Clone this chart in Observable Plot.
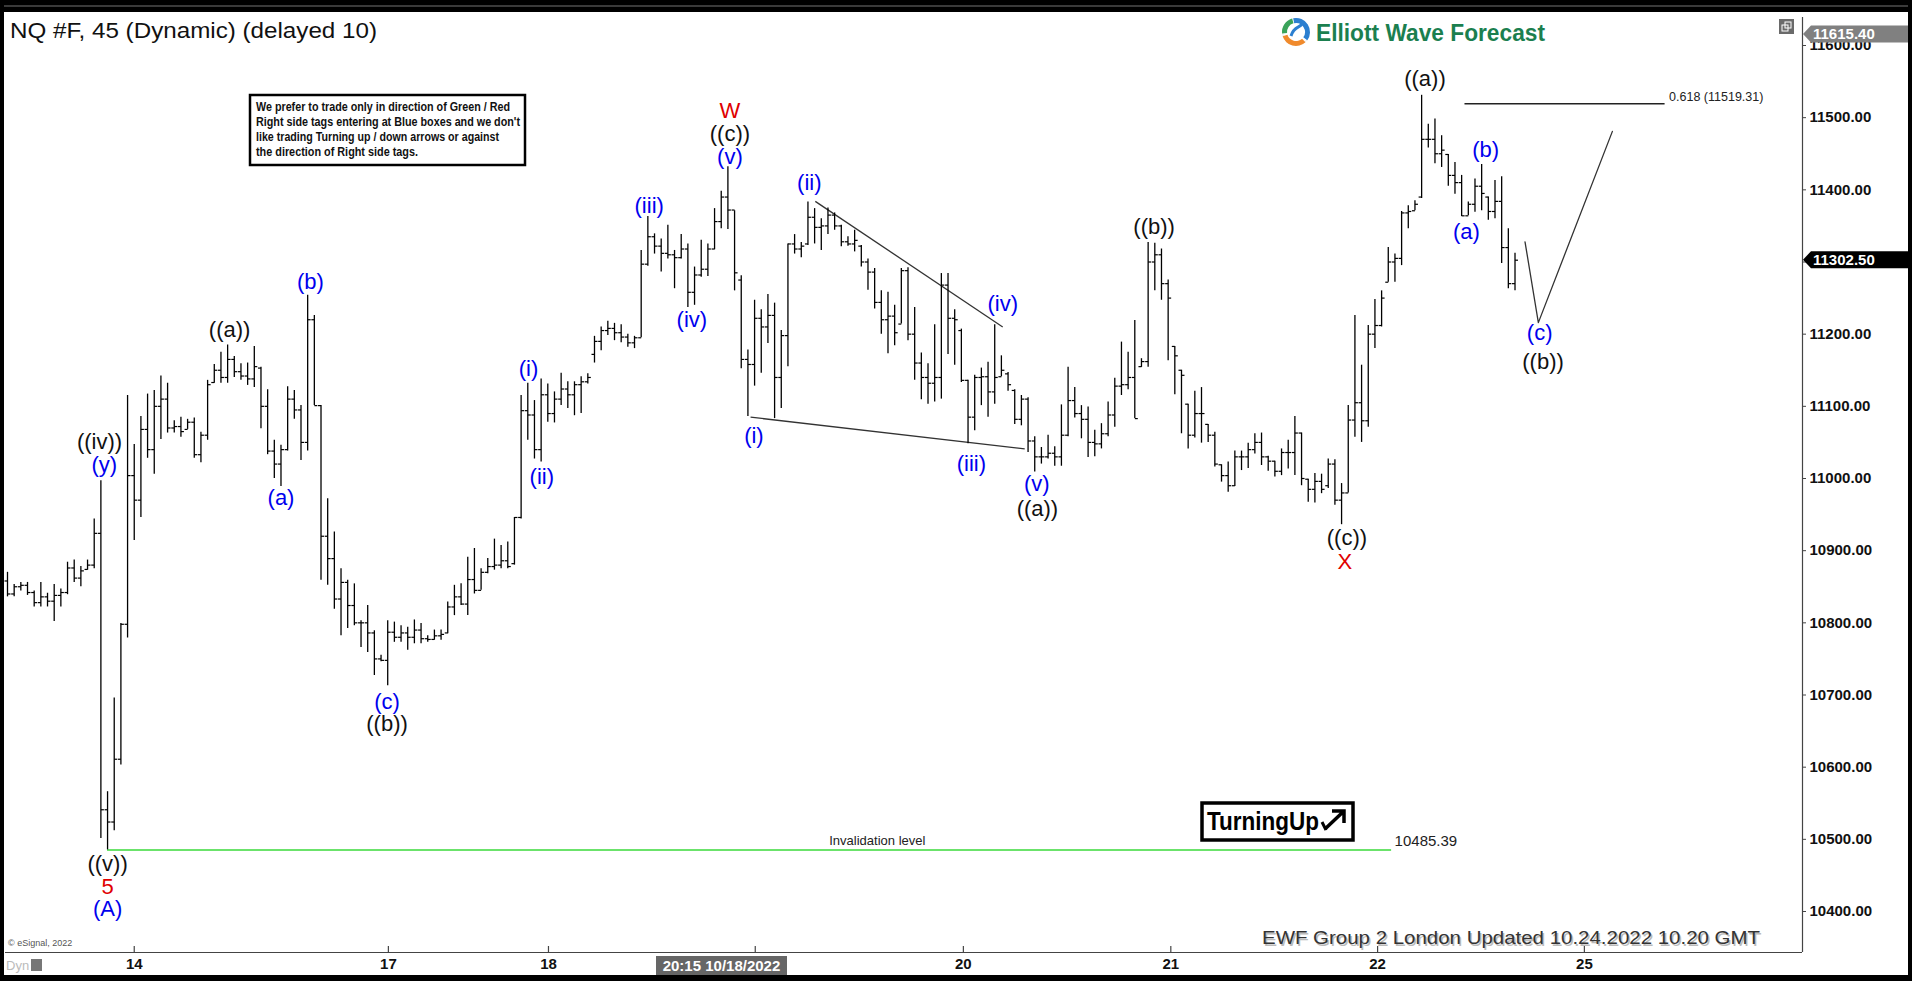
<!DOCTYPE html>
<html><head><meta charset="utf-8">
<script src="https://cdn.jsdelivr.net/npm/d3@7"></script>
<script src="https://cdn.jsdelivr.net/npm/@observablehq/plot@0.6"></script>
<style>
html,body{margin:0;padding:0;background:#000;}
#wrap{position:relative;width:1912px;height:981px;overflow:hidden;}
svg{display:block}
</style></head><body><div id="wrap"></div>
<script>
// ---- 45-minute OHLC bars (NQ #F), one entry per bar ----
const opens=[10858,10840,10850,10852,10842,10828,10836,10830,10838,10842,
10876,10862,10874,10880,10924,10541,10524,10611,10798,11004,
10970,11068,11040,11100,11110,11070,11072,11068,11078,11033,
11060,11133,11150,11140,11165,11148,11142,11138,11153,11100,
11038,11020,11040,11110,11095,11050,11220,11101,10920,10889,
10833,10856,10824,10800,10800,10786,10750,10748,10787,10780,
10786,10780,10790,10778,10777,10782,10786,10822,10836,10826,
10860,10845,10870,10878,10880,10886,10882,10946,11094,11088,
11040,11116,11090,11110,11124,11116,11130,11134,11172,11190,
11205,11208,11202,11196,11188,11195,11297,11335,11322,11312,
11310,11306,11318,11258,11282,11290,11318,11356,11390,11372,
11275,11165,11158,11222,11210,11226,11140,11198,11325,11318,
11325,11362,11348,11350,11365,11350,11328,11325,11322,11300,
11286,11244,11220,11225,11214,11288,11200,11160,11140,11132,
11140,11268,11222,11205,11136,11085,11140,11141,11120,11141,
11145,11122,11082,11110,11052,11030,11030,11035,11030,11060,
11108,11090,11082,11050,11048,11062,11088,11128,11130,11140,
11155,11162,11300,11310,11270,11183,11150,11103,11060,11090,
11075,11060,11019,11004,10990,11030,11030,11040,11050,11030,
11024,11010,11036,11036,11063,10999,10985,10996,10990,11020,
10970,10980,11081,11105,11080,11200,11212,11272,11300,11305,
11368,11371,11390,11470,11470,11450,11449,11420,11410,11364,
11380,11405,11390,11370,11384,11320,11270];
const highs=[10870,10853,10856,10856,10844,10856,10841,10853,10847,10884,
10887,10878,10887,10944,10997,10566,10696,10799,11115,11047,
11086,11117,11122,11142,11132,11080,11085,11082,11084,11064,
11136,11158,11175,11185,11169,11159,11160,11183,11154,11123,
11053,11046,11127,11122,11101,11254,11226,11101,10972,10926,
10875,10859,10854,10803,10824,10789,10755,10803,10801,10796,
10794,10804,10799,10782,10790,10790,10829,10852,10854,10891,
10903,10875,10889,10916,10907,10912,10946,11115,11132,11108,
11138,11131,11120,11146,11134,11134,11141,11145,11197,11210,
11218,11215,11213,11200,11197,11316,11363,11339,11332,11351,
11316,11338,11325,11293,11330,11325,11374,11398,11432,11371,
11281,11178,11247,11234,11255,11243,11205,11325,11338,11327,
11383,11374,11360,11375,11368,11351,11335,11344,11323,11304,
11291,11260,11258,11240,11291,11292,11237,11174,11159,11213,
11284,11284,11234,11207,11136,11143,11153,11161,11213,11170,
11147,11123,11115,11112,11058,11043,11060,11044,11102,11154,
11126,11101,11099,11067,11076,11106,11139,11189,11175,11219,
11166,11327,11326,11318,11275,11183,11150,11103,11121,11126,
11075,11064,11019,11023,11038,11038,11049,11062,11063,11031,
11024,11041,11053,11086,11063,10999,11007,11006,11027,11026,
10993,11101,11226,11157,11212,11248,11260,11320,11311,11370,
11378,11385,11531,11491,11498,11475,11449,11438,11420,11383,
11415,11435,11390,11413,11418,11346,11312];
const lows=[10836,10836,10844,10838,10822,10822,10822,10802,10822,10839,
10856,10850,10873,10875,10501,10485.39,10512,10603,10779,10914,
10946,11028,11006,11054,11063,11063,11057,11068,11028,11022,
11053,11132,11132,11132,11140,11136,11129,11126,11069,11033,
11000,10989,11038,11082,11025,11038,11101,10859,10852,10819,
10782,10792,10796,10766,10759,10727,10746,10713,10773,10773,
10762,10771,10771,10773,10776,10776,10785,10810,10824,10810,
10840,10845,10868,10873,10875,10875,10880,10944,11053,11027,
11023,11078,11077,11101,11097,11087,11090,11131,11160,11177,
11198,11191,11188,11182,11180,11195,11294,11311,11286,11304,
11263,11304,11237,11240,11279,11280,11317,11346,11345,11260,
11152,11086,11128,11146,11187,11083,11097,11155,11311,11306,
11323,11325,11316,11338,11344,11321,11322,11314,11293,11261,
11235,11200,11173,11184,11214,11191,11136,11109,11103,11106,
11110,11172,11157,11133,11048,11066,11101,11085,11103,11141,
11121,11075,11073,11036,11009,11020,11027,11017,11017,11058,
11084,11055,11029,11030,11041,11058,11071,11115,11123,11083,
11154,11154,11260,11247,11163,11116,11062,11041,11056,11049,
11050,11016,10995,10981,10989,11011,11014,11034,11018,11010,
11002,11004,11013,11004,10990,10967,10966,10979,10986,10963,
10936,10980,11057,11050,11071,11180,11210,11272,11272,11295,
11346,11371,11388,11458,11436,11431,11405,11394,11363,11364,
11369,11371,11358,11360,11298,11263,11260];
const closes=[10840,10850,10852,10842,10828,10836,10830,10838,10842,10876,
10862,10872,10880,10924,10541,10524,10611,10798,11004,10970,
11068,11040,11100,11110,11070,11072,11065,11078,11033,11060,
11130,11150,11140,11165,11148,11142,11138,11155,11100,11038,
11020,11040,11110,11095,11050,11220,11101,10920,10889,10833,
10856,10824,10800,10800,10786,10750,10748,10787,10780,10786,
10780,10790,10778,10777,10782,10784,10822,10836,10826,10860,
10845,10870,10878,10880,10886,10878,10946,11094,11088,11040,
11116,11090,11110,11124,11116,11130,11134,11140,11190,11205,
11208,11202,11196,11188,11195,11297,11335,11322,11312,11310,
11306,11318,11258,11282,11290,11318,11356,11390,11372,11285,
11165,11158,11222,11210,11226,11140,11198,11325,11318,11322,
11362,11348,11350,11365,11350,11328,11325,11330,11300,11286,
11244,11220,11225,11202,11288,11200,11160,11140,11132,11140,
11268,11222,11220,11136,11085,11140,11141,11120,11140,11150,
11130,11082,11110,11052,11030,11030,11035,11030,11060,11108,
11090,11082,11050,11048,11062,11088,11128,11130,11140,11083,
11162,11300,11310,11270,11250,11170,11143,11060,11090,11090,
11060,11020,11004,10990,11030,11030,11040,11050,11030,11024,
11010,11036,11036,11063,11000,10985,10996,10985,11020,10970,
10980,11081,11105,11080,11200,11212,11250,11300,11305,11368,
11370,11380,11470,11470,11450,11455,11420,11410,11364,11380,
11405,11395,11370,11384,11320,11270,11302.5];

// ---- axes ----
const yTicks=[10400,10500,10600,10700,10800,10900,11000,11100,11200,11300,11400,11500,11600];
const dayTickIdx=[19,57.1,81.1,112.1,143.3,174.4,205.4,236.4];
const dayTickLabels=["14","17","18","","20","21","22","25"];

// ---- Elliott wave labels (bar position, price) ----
const waveText=["((iv))","(y)","((v))","5","(A)","((a))","(a)","(b)","(c)","((b))","(i)","(ii)","(iii)","(iv)","W","((c))","(v)","(i)","(ii)","(iii)","(iv)","(v)","((a))","((b))","((c))","X","((a))","(b)","(a)","(c)","((b))"];
const waveIdx=[13.8,14.5,15,15,15,33.3,41,45.4,56.9,56.9,78.1,80.1,96.2,102.6,108.3,108.3,108.3,111.9,120.2,144.5,149.2,154.3,154.4,171.9,200.8,200.5,212.5,221.6,218.7,229.7,230.2];
const wavePrice=[11050,11019,10466,10434,10403,11206,10973,11272,10691,10660,11152,11002,11377,11220,11509,11478,11446,11059,11409,11020,11242,10993,10958,11348,10917,10885,11554,11455,11341,11201,11162];
const waveColor=["#111","#0000ee","#111","#e00000","#0000ee","#111","#0000ee","#0000ee","#0000ee","#111","#0000ee","#0000ee","#0000ee","#0000ee","#e00000","#111","#0000ee","#0000ee","#0000ee","#0000ee","#0000ee","#0000ee","#111","#111","#111","#e00000","#111","#0000ee","#0000ee","#0000ee","#111"];

// ---- guide lines ----
const triIdx1=[121.1,111.4], triPrice1=[11384,11085];
const triIdx2=[149.2,152.5], triPrice2=[11210,11041];
const projIdx=[227.5,229.5,240.6];
const projPrice=[11328,11216,11481];
const invalidation=10485.39, invStartIdx=15, invEndIdx=207.5;
const fib=11519.31, fibStartIdx=218.5, fibEndIdx=248.5;
const lastPrice=11302.5, highPrice=11615.4;

const bars=opens.map((o,i)=>({i,open:o,high:highs[i],low:lows[i],close:closes[i]}));
const waves=waveText.map((t,k)=>({t,x:waveIdx[k],y:wavePrice[k],c:waveColor[k]}));
const tri=[0,1].map(k=>({x1:triIdx1[k],y1:triPrice1[k],x2:triIdx2[k],y2:triPrice2[k]}));
const proj=projIdx.map((x,k)=>({x,y:projPrice[k]}));

const X0=-0.3,X1=269.1,Y0=10343.2,Y1=11638.8;
const FONT="Arial, 'Liberation Sans', sans-serif";

const chart=Plot.plot({
  width:1912,height:981,marginLeft:5,marginRight:110,marginTop:17,marginBottom:29,
  x:{domain:[X0,X1],axis:null},
  y:{domain:[Y0,Y1],axis:null},
  style:{background:"transparent",fontFamily:FONT},
  marks:[
    Plot.ruleY([{y:invalidation,x1:invStartIdx,x2:invEndIdx}],{y:"y",x1:"x1",x2:"x2",stroke:"#6be36b",strokeWidth:2}),
    Plot.ruleY([{y:fib,x1:fibStartIdx,x2:fibEndIdx}],{y:"y",x1:"x1",x2:"x2",stroke:"#222",strokeWidth:1.3}),
    Plot.link(tri,{x1:"x1",y1:"y1",x2:"x2",y2:"y2",stroke:"#333",strokeWidth:1.3}),
    Plot.line(proj,{x:"x",y:"y",stroke:"#333",strokeWidth:1.3}),
    Plot.ruleX(bars,{x:"i",y1:"low",y2:"high",stroke:"#000",strokeWidth:1.3}),
    Plot.link(bars,{x1:d=>d.i-0.45,x2:"i",y1:"open",y2:"open",stroke:"#000",strokeWidth:1.2}),
    Plot.link(bars,{x1:"i",x2:d=>d.i+0.45,y1:"close",y2:"close",stroke:"#000",strokeWidth:1.2}),
    Plot.text(waves,{x:"x",y:"y",text:"t",fill:"c",fontSize:22,fontFamily:FONT}),
    Plot.text([{x:130.4,y:invalidation}],{x:"x",y:"y",text:()=>"Invalidation level",dy:-9,fontSize:13,fill:"#222"}),
    Plot.text([{x:invEndIdx,y:invalidation}],{x:"x",y:"y",text:()=>"10485.39",dx:3,dy:-9,textAnchor:"start",fontSize:15,fill:"#222"}),
    Plot.text([{x:fibEndIdx,y:fib}],{x:"x",y:"y",text:()=>"0.618 (11519.31)",dx:4,dy:-7,textAnchor:"start",fontSize:12.5,fill:"#222"}),
    Plot.ruleX([X1],{stroke:"#444",strokeWidth:1.2}),
    Plot.ruleY([Y0],{stroke:"#444",strokeWidth:1.2}),
    Plot.ruleX(dayTickIdx,{x:d=>d,y1:Y0,y2:Y0+6/0.7217,stroke:"#444",strokeWidth:1.2}),
    Plot.axisY(yTicks,{anchor:"right",tickFormat:d=>d.toFixed(2),tickSize:3,tickPadding:4,fontSize:15,fontWeight:"bold",fill:"#111",stroke:"#444"}),
    Plot.axisX(dayTickIdx,{anchor:"bottom",tickSize:0,tickPadding:6,tickFormat:d=>dayTickLabels[dayTickIdx.indexOf(d)],fontSize:15,fontWeight:"bold",fill:"#111"})
  ]
});

document.getElementById("wrap").appendChild(chart);
const svg=d3.select(chart);
const ys=chart.scale("y");

// background panel
svg.insert("rect",":first-child").attr("x",4).attr("y",12).attr("width",1904).attr("height",963).attr("fill","#fff");
svg.insert("rect",":first-child").attr("x",0).attr("y",0).attr("width",1912).attr("height",981).attr("fill","#000");
const g=svg.append("g").attr("font-family",FONT).attr("text-anchor","start");
g.append("line").attr("x1",4).attr("x2",1908).attr("y1",6).attr("y2",6).attr("stroke","#3a3a3a").attr("stroke-width",2);

// title
g.append("text").attr("x",10).attr("y",37.5).attr("font-size",22).attr("fill","#111")
  .attr("textLength",367).attr("lengthAdjust","spacingAndGlyphs").text("NQ #F, 45 (Dynamic) (delayed 10)");

// logo
const lg=g.append("g").attr("transform","translate(1296,32)");
lg.append("circle").attr("r",13.5).attr("fill","none").attr("stroke","#e8e8e8").attr("stroke-width",1);
lg.append("path").attr("d",d3.arc()({innerRadius:9,outerRadius:14,startAngle:-0.2,endAngle:2.2})).attr("fill","#2c7fd0");
lg.append("path").attr("d",d3.arc()({innerRadius:9,outerRadius:14,startAngle:2.4,endAngle:4.4})).attr("fill","#f08a2c");
lg.append("path").attr("d",d3.arc()({innerRadius:9,outerRadius:14,startAngle:4.6,endAngle:6.0})).attr("fill","#3aa35a");
lg.append("path").attr("d","M-5,4 C-2,-6 4,-4 6,-8").attr("fill","none").attr("stroke","#2c7fd0").attr("stroke-width",3);
g.append("text").attr("x",1316).attr("y",41).attr("font-size",23).attr("font-weight","bold").attr("fill","#1b7f4f")
  .attr("textLength",229).attr("lengthAdjust","spacingAndGlyphs").text("Elliott Wave Forecast");

// small window icon
g.append("rect").attr("x",1779).attr("y",19).attr("width",15).attr("height",15).attr("fill","#6a6a6a");
g.append("rect").attr("x",1782).attr("y",25).attr("width",6).attr("height",6).attr("fill","none").attr("stroke","#fff").attr("stroke-width",1);
g.append("rect").attr("x",1785).attr("y",22).attr("width",6).attr("height",6).attr("fill","none").attr("stroke","#fff").attr("stroke-width",1);

// info box
g.append("rect").attr("x",250).attr("y",95).attr("width",275).attr("height",70).attr("fill","#fff").attr("stroke","#000").attr("stroke-width",2.5);
const infoLines=["We prefer to trade only in direction of Green / Red","Right side tags entering at Blue boxes and we don't","like trading Turning up / down arrows or against","the direction of Right side tags."];
const infoLens=[254,264,243,162];
infoLines.forEach((t,k)=>g.append("text").attr("x",256).attr("y",111+k*15).attr("font-size",12.5).attr("font-weight","bold").attr("fill","#111")
  .attr("textLength",infoLens[k]).attr("lengthAdjust","spacingAndGlyphs").text(t));

// price tags
function tag(price,fill,label){
  const y=ys.apply(price);
  g.append("path").attr("d",`M1803,${y} L1811,${y-8.5} L1908,${y-8.5} L1908,${y+8.5} L1811,${y+8.5} Z`).attr("fill",fill);
  g.append("text").attr("x",1813).attr("y",y+5.5).attr("font-size",15).attr("font-weight","bold").attr("fill","#fff").text(label);
}
tag(highPrice,"#808080","11615.40");
tag(lastPrice,"#000","11302.50");

// Turning Up box
g.append("rect").attr("x",1202).attr("y",803).attr("width",151).attr("height",37).attr("fill","#fff").attr("stroke","#000").attr("stroke-width",3.5);
g.append("text").attr("x",1207).attr("y",830).attr("font-size",25).attr("font-weight","bold").attr("fill","#000")
  .attr("textLength",112).attr("lengthAdjust","spacingAndGlyphs").text("TurningUp");
g.append("path").attr("d","M1325,829 L1344,811 M1332,811 L1344,811 L1344,823").attr("fill","none").attr("stroke","#000").attr("stroke-width",3.5);
g.append("path").attr("d","M1322,822 L1326,830").attr("fill","none").attr("stroke","#000").attr("stroke-width",3);

// footer
g.append("text").attr("x",1263.5).attr("y",945.5).attr("font-size",19).attr("fill","#bbb")
  .attr("textLength",498).attr("lengthAdjust","spacingAndGlyphs").text("EWF Group 2 London Updated 10.24.2022 10.20 GMT");
g.append("text").attr("x",1262).attr("y",944).attr("font-size",19).attr("fill","#333")
  .attr("textLength",498).attr("lengthAdjust","spacingAndGlyphs").text("EWF Group 2 London Updated 10.24.2022 10.20 GMT");
g.append("text").attr("x",8).attr("y",946).attr("font-size",9).attr("fill","#555").text("© eSignal, 2022");

// bottom-left Dyn + lock
g.append("text").attr("x",6).attr("y",970).attr("font-size",13).attr("fill","#bbb").text("Dyn");
g.append("rect").attr("x",31).attr("y",959).attr("width",11).attr("height",12).attr("fill","#777");

// cursor date box
g.append("rect").attr("x",656).attr("y",956).attr("width",131).attr("height",19).attr("fill","#666");
g.append("text").attr("x",721.5).attr("y",971).attr("text-anchor","middle").attr("font-size",15).attr("font-weight","bold").attr("fill","#fff").text("20:15 10/18/2022");
</script></body></html>
